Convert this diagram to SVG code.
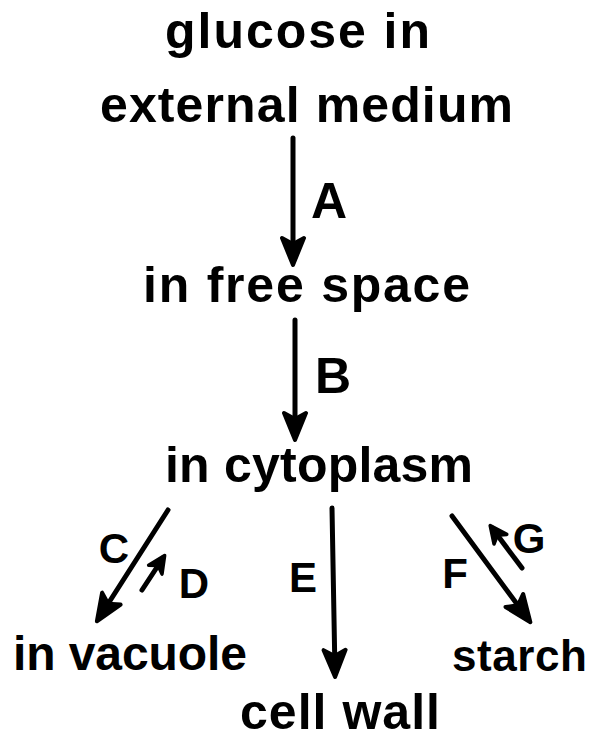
<svg xmlns="http://www.w3.org/2000/svg" width="596" height="740" viewBox="0 0 596 740">
<style>
.t{font-family:"Liberation Sans",Arial,sans-serif;font-weight:bold;font-size:50px;fill:#000}
.l{font-family:"Liberation Sans",Arial,sans-serif;font-weight:bold;fill:#000;text-anchor:middle}
.a{stroke:#000;stroke-width:5;stroke-linecap:round;fill:none}
</style>
<defs>
<marker id="big" markerUnits="userSpaceOnUse" viewBox="-30 -16 36 32" markerWidth="36" markerHeight="32" refX="0" refY="0" orient="auto">
<path d="M4,0 L-23,-11 L-17,0 L-23,11 Z" fill="#000" stroke="#000" stroke-width="4" stroke-linejoin="round"/>
</marker>
<marker id="small" markerUnits="userSpaceOnUse" viewBox="-20 -12 26 24" markerWidth="26" markerHeight="24" refX="0" refY="0" orient="auto">
<path d="M3,0 L-14,-8 L-9,0 L-14,8 Z" fill="#000" stroke="#000" stroke-width="3.5" stroke-linejoin="round"/>
</marker>
</defs>
<g id="glucose"><text class="t" x="165" y="48" textLength="265" lengthAdjust="spacing">glucose in</text><text class="t" x="100" y="122" textLength="413" lengthAdjust="spacing">external medium</text></g>
<g id="freespace"><text class="t" x="143" y="302" textLength="327" lengthAdjust="spacing">in free space</text></g>
<g id="cytoplasm"><text class="t" x="165" y="482" textLength="308" lengthAdjust="spacing">in cytoplasm</text></g>
<g id="vacuole"><text class="t" x="13" y="670" style="font-size:48px" textLength="234" lengthAdjust="spacing">in vacuole</text></g>
<g id="starch"><text class="t" x="452" y="671" style="font-size:44px" textLength="135" lengthAdjust="spacing">starch</text></g>
<g id="cellwall"><text class="t" x="240" y="729" textLength="200" lengthAdjust="spacing">cell wall</text></g>
<g id="connectors">
<line class="a" x1="293" y1="138" x2="293" y2="261" marker-end="url(#big)"/>
<line class="a" x1="295" y1="320" x2="295" y2="436" marker-end="url(#big)"/>
<line class="a" x1="168" y1="510" x2="99" y2="618" marker-end="url(#big)"/>
<line class="a" x1="142" y1="590" x2="163" y2="558" marker-end="url(#small)"/>
<line class="a" x1="332" y1="508" x2="335" y2="673" marker-end="url(#big)"/>
<line class="a" x1="452" y1="516" x2="528" y2="619" marker-end="url(#big)"/>
<line class="a" x1="522" y1="568" x2="492" y2="528" marker-end="url(#small)"/>
<text class="l" x="329" y="218" font-size="50">A</text>
<text class="l" x="333" y="393" font-size="50">B</text>
<text class="l" x="114" y="563" font-size="42">C</text>
<text class="l" x="194" y="598" font-size="42">D</text>
<text class="l" x="303" y="592" font-size="42">E</text>
<text class="l" x="455" y="588" font-size="42">F</text>
<text class="l" x="529" y="553" font-size="42">G</text>
</g>
</svg>
